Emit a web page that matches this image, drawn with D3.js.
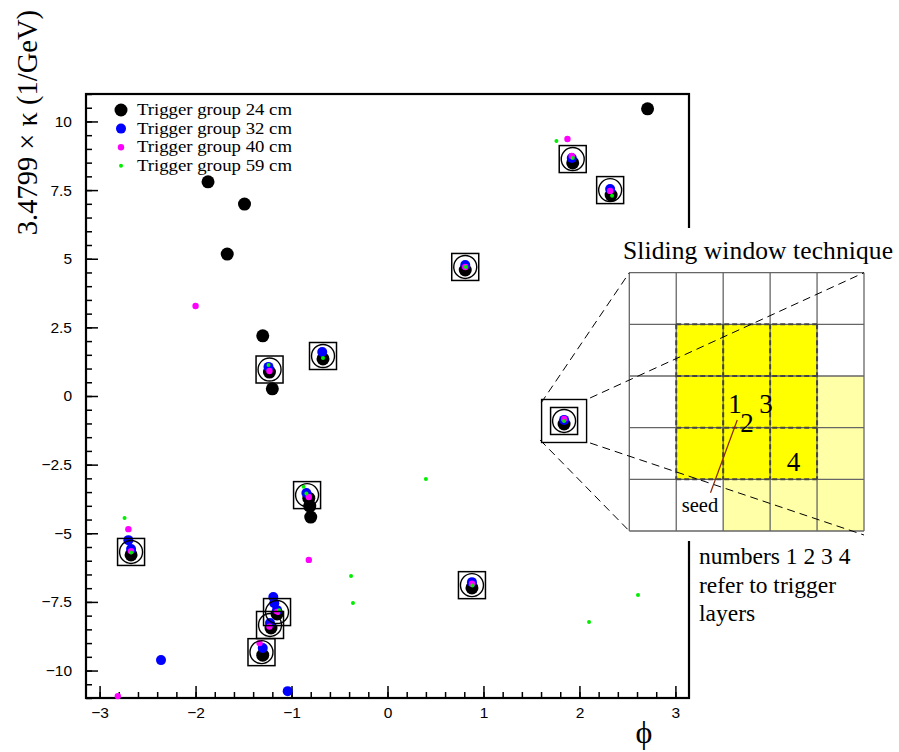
<!DOCTYPE html>
<html>
<head>
<meta charset="utf-8">
<script src="https://cdn.jsdelivr.net/npm/d3@7"></script>
<style>
  html, body { margin: 0; padding: 0; background: #fff; }
  svg { display: block; }
  .tick text { font-family: "Liberation Sans", Arial, sans-serif; font-size: 15.5px; fill: #000; }
</style>
</head>
<body>
<script>
// Hits per trigger group, [phi, kappa]
const group24 = [
  [2.71, 10.46], [-1.87, 7.80], [-1.49, 6.99], [-1.67, 5.17], [-1.30, 2.19], [-1.20, 0.26],
  [-0.81, -4.01], [-0.80, -4.41],
  [1.93, 8.49], [2.33, 7.32], [0.81, 4.59], [-1.23, 0.87], [-0.672, 1.35], [1.84, -1.02],
  [-0.82, -3.72], [-2.672, -5.79], [0.88, -6.99], [-1.151, -7.94], [-1.214, -8.45], [-1.30, -9.44]
];
const group32 = [
  [1.92, 8.67], [2.32, 7.54], [0.81, 4.77], [-1.24, 1.06], [-0.68, 1.60], [1.84, -0.87],
  [-0.845, -3.53], [-2.672, -5.57], [0.88, -6.78], [-1.19, -7.32], [-1.18, -7.55], [-1.151, -7.80],
  [-1.224, -8.27], [-1.30, -9.18],
  [-2.70, -5.25], [-2.36, -9.62], [-1.04, -10.75]
];
const group40 = [
  [1.92, 8.74], [2.32, 7.47], [0.81, 4.70], [-1.23, 0.91], [1.84, -0.84], [-0.82, -3.68],
  [-2.672, -5.65], [0.88, -6.84], [-1.151, -7.87], [-1.23, -8.40], [-1.333, -9.0],
  [1.875, 9.36], [-2.0, 3.28], [-2.70, -4.85], [-0.82, -5.97], [-2.81, -10.93]
];
const group59 = [
  [1.93, 8.67], [2.34, 7.29], [0.815, 4.70], [-1.24, 1.13], [-0.672, 1.38], [1.84, -0.91],
  [-0.875, -3.31], [-0.845, -3.55], [-2.672, -5.70], [0.885, -6.90], [-1.13, -7.80],
  [1.76, 9.29], [-2.74, -4.44], [0.40, -3.02], [-0.38, -6.56], [-0.36, -7.54], [2.61, -7.25], [2.10, -8.23]
];
// Found track candidates (circle + square)
const tracks = [
  [1.93, 8.63], [2.32, 7.50], [0.81, 4.70], [-1.229, 0.965], [-0.672, 1.457], [1.84, -0.91],
  [-0.838, -3.61], [-2.672, -5.68], [0.88, -6.89], [-1.151, -7.87], [-1.224, -8.34], [-1.313, -9.33]
];
const zoomedTrack = [1.84, -0.91];

const legendLabels = ["Trigger group 24 cm", "Trigger group 32 cm", "Trigger group 40 cm", "Trigger group 59 cm"];
const groupColors = ["#000000", "#0000ff", "#ff00ff", "#00ee00"];
const groupRadii = [6.5, 5, 3.2, 2];

const xMajorTicks = [-3, -2, -1, 0, 1, 2, 3];
const yMajorTicks = [-10, -7.5, -5, -2.5, 0, 2.5, 5, 7.5, 10];

// Sliding-window diagram
const gridSize = 5;
const brightCells = [[1,1],[1,2],[1,3],[2,1],[2,2],[2,3],[3,1],[3,2],[3,3]];
const paleCells = [[2,4],[3,4],[4,2],[4,3],[4,4]];
const layerLabels = [
  {t: "1", col: 2.25, row: 2.50},
  {t: "2", col: 2.51, row: 2.88},
  {t: "3", col: 2.91, row: 2.50},
  {t: "4", col: 3.50, row: 3.63}
];
const noteLines = ["numbers 1 2 3 4", "refer to trigger", "layers"];

const W = 899, H = 752;
const serif = "'Liberation Serif', 'Times New Roman', serif";

const svg = d3.select("body").append("svg").attr("width", W).attr("height", H);

const x = d3.scaleLinear().domain([-Math.PI, Math.PI]).range([86, 689]);
const y = d3.scaleLinear().domain([-11, 11]).range([698, 94]);

const fmt = d => (d < 0 ? "\u2212" + Math.abs(d) : String(d));

// minor ticks
svg.append("g").attr("transform", "translate(0,698)")
  .call(d3.axisBottom(x).tickValues(d3.range(-3.0, 3.01, 0.2)).tickSizeInner(-6).tickSizeOuter(0).tickFormat(""))
  .call(g => g.select(".domain").remove())
  .call(g => g.selectAll("line").attr("stroke-width", 1.5));
svg.append("g").attr("transform", "translate(86,0)")
  .call(d3.axisLeft(y).tickValues(d3.range(-11, 11.01, 0.5)).tickSizeInner(-6).tickSizeOuter(0).tickFormat(""))
  .call(g => g.select(".domain").remove())
  .call(g => g.selectAll("line").attr("stroke-width", 1.5));

// major ticks + labels
svg.append("g").attr("transform", "translate(0,698)")
  .call(d3.axisBottom(x).tickValues(xMajorTicks).tickSizeInner(-12).tickSizeOuter(0).tickPadding(9).tickFormat(fmt))
  .call(g => g.select(".domain").remove())
  .call(g => g.selectAll("line").attr("stroke-width", 1.5));
svg.append("g").attr("transform", "translate(86,0)")
  .call(d3.axisLeft(y).tickValues(yMajorTicks).tickSizeInner(-12).tickSizeOuter(0).tickPadding(14).tickFormat(fmt))
  .call(g => g.select(".domain").remove())
  .call(g => g.selectAll("line").attr("stroke-width", 1.5));

// frame
svg.append("rect").attr("x", x.range()[0]).attr("y", y.range()[1])
  .attr("width", x.range()[1] - x.range()[0]).attr("height", y.range()[0] - y.range()[1])
  .attr("fill", "none").attr("stroke", "#000").attr("stroke-width", 2.2);

// axis titles
svg.append("text").attr("transform", "translate(37,10) rotate(-90)")
  .attr("text-anchor", "end").attr("font-family", serif).attr("font-size", 28.5)
  .text("3.4799 \u00d7 \u03ba (1/GeV)");
svg.append("text").attr("x", 644).attr("y", 743).attr("text-anchor", "middle")
  .attr("font-family", serif).attr("font-size", 32).text("\u03d5");

// hits
const plot = svg.append("g");
[group24, group32, group40, group59].forEach((pts, i) => {
  plot.selectAll(null).data(pts).join("circle")
    .attr("cx", d => x(d[0])).attr("cy", d => y(d[1]))
    .attr("r", groupRadii[i]).attr("fill", groupColors[i]);
});

// track markers
plot.selectAll(null).data(tracks).join("circle")
  .attr("cx", d => x(d[0])).attr("cy", d => y(d[1])).attr("r", 11.5)
  .attr("fill", "none").attr("stroke", "#000").attr("stroke-width", 1.4);
plot.selectAll(null).data(tracks).join("rect")
  .attr("x", d => x(d[0]) - 13.5).attr("y", d => y(d[1]) - 13.5)
  .attr("width", 27).attr("height", 27)
  .attr("fill", "none").attr("stroke", "#000").attr("stroke-width", 1.5);

// legend
const leg = svg.append("g");
legendLabels.forEach((t, i) => {
  const ly = 110 + i * 18.6;
  leg.append("circle").attr("cx", 121).attr("cy", ly).attr("r", groupRadii[i]).attr("fill", groupColors[i]);
  leg.append("text").attr("x", 137).attr("y", ly + 5).attr("font-family", serif).attr("font-size", 16)
    .attr("textLength", 155).attr("lengthAdjust", "spacingAndGlyphs").text(t);
});

// inset: sliding window technique
const inset = svg.append("g");
inset.append("rect").attr("x", 612).attr("y", 228).attr("width", W - 612).attr("height", 313).attr("fill", "#fff");
inset.append("text").attr("x", 623).attr("y", 259).attr("font-family", serif).attr("font-size", 25.5)
  .attr("textLength", 270).text("Sliding window technique");

const gx = d3.scaleLinear().domain([0, gridSize]).range([629.3, 864]);
const gy = d3.scaleLinear().domain([0, gridSize]).range([272.7, 531]);

inset.selectAll(null).data(paleCells).join("rect")
  .attr("x", d => gx(d[1])).attr("y", d => gy(d[0]))
  .attr("width", gx(1) - gx(0)).attr("height", gy(1) - gy(0)).attr("fill", "#ffffa8");
inset.selectAll(null).data(brightCells).join("rect")
  .attr("x", d => gx(d[1])).attr("y", d => gy(d[0]))
  .attr("width", gx(1) - gx(0)).attr("height", gy(1) - gy(0)).attr("fill", "#ffff00");

const gridLines = d3.range(gridSize + 1);
inset.selectAll(null).data(gridLines).join("line")
  .attr("x1", d => gx(d)).attr("x2", d => gx(d)).attr("y1", gy(0)).attr("y2", gy(gridSize))
  .attr("stroke", "#666").attr("stroke-width", 1.3);
inset.selectAll(null).data(gridLines).join("line")
  .attr("y1", d => gy(d)).attr("y2", d => gy(d)).attr("x1", gx(0)).attr("x2", gx(gridSize))
  .attr("stroke", "#666").attr("stroke-width", 1.3);

// dashed outline of the 3x3 window region
const win = [1, 2, 3, 4];
inset.selectAll(null).data(win).join("line")
  .attr("x1", d => gx(d)).attr("x2", d => gx(d)).attr("y1", gy(1)).attr("y2", gy(4))
  .attr("stroke", "#444").attr("stroke-width", 2).attr("stroke-dasharray", "5,3");
inset.selectAll(null).data(win).join("line")
  .attr("y1", d => gy(d)).attr("y2", d => gy(d)).attr("x1", gx(1)).attr("x2", gx(4))
  .attr("stroke", "#444").attr("stroke-width", 2).attr("stroke-dasharray", "5,3");

// magnified track box and zoom lines
const zx = x(zoomedTrack[0]), zy = y(zoomedTrack[1]);
inset.append("rect").attr("x", zx - 22.5).attr("y", zy - 21.5).attr("width", 45).attr("height", 43)
  .attr("fill", "none").attr("stroke", "#000").attr("stroke-width", 1.4);
const zoomLines = [
  [[zx - 23, zy - 18], [gx(0), gy(0)]],
  [[zx + 26, zy - 23], [gx(gridSize), gy(0)]],
  [[zx - 24, zy + 19], [gx(0), gy(gridSize)]],
  [[zx + 26, zy + 22], [gx(gridSize), gy(gridSize) + 4]]
];
inset.selectAll(null).data(zoomLines).join("line")
  .attr("x1", d => d[0][0]).attr("y1", d => d[0][1]).attr("x2", d => d[1][0]).attr("y2", d => d[1][1])
  .attr("stroke", "#000").attr("stroke-width", 1).attr("stroke-dasharray", "8,5");

// layer numbers
inset.selectAll(null).data(layerLabels).join("text")
  .attr("x", d => gx(d.col)).attr("y", d => gy(d.row) + 11)
  .attr("font-family", serif).attr("font-size", 27).attr("text-anchor", "middle")
  .text(d => d.t);

// seed pointer
inset.append("line").attr("x1", gx(2.3)).attr("y1", gy(2.85)).attr("x2", gx(1.73)).attr("y2", gy(4.26))
  .attr("stroke", "#8b2500").attr("stroke-width", 1.2);
inset.append("text").attr("x", 700).attr("y", 512).attr("text-anchor", "middle")
  .attr("font-family", serif).attr("font-size", 20.5).text("seed");

// note
noteLines.forEach((t, i) => {
  svg.append("text").attr("x", 699).attr("y", 564 + i * 28.5)
    .attr("font-family", serif).attr("font-size", 23.5).text(t);
});
</script>
</body>
</html>
